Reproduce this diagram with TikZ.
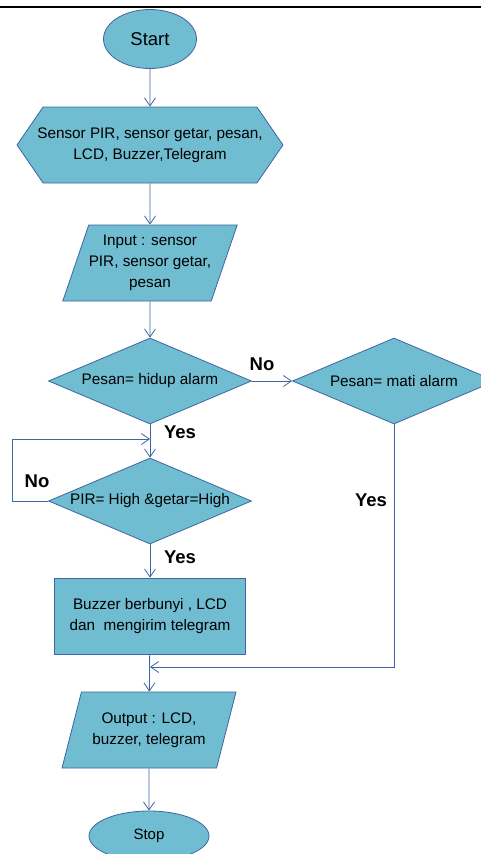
\documentclass[tikz,border=0pt]{standalone}
\usepackage{fontspec}
\setmainfont{Liberation Sans}
\usetikzlibrary{arrows.meta,positioning,calc,shapes.geometric,shapes.symbols}
\definecolor{flowfill}{RGB}{112,188,208}
\definecolor{flowline}{RGB}{62,102,162}

\begin{document}
\begin{tikzpicture}[
  x=1pt, y=-1pt,
  >={Straight Barb[length=8pt,width=11pt]},
  every node/.style={font=\fontsize{15.3}{21}\selectfont},
  shapebase/.style={draw=flowline, fill=flowfill, line width=0.8pt,
                    align=center, inner sep=0pt},
  terminal/.style={shapebase, ellipse},
  prep/.style={shapebase, signal, signal to=west and east,
               signal pointer angle=111, inner xsep=-12pt},
  io/.style={shapebase, trapezium, trapezium left angle=65,
             trapezium right angle=115, trapezium stretches=true,
             minimum width=174pt, minimum height=76pt},
  decision/.style={shapebase, diamond, aspect=2.36,
                   minimum width=203pt, minimum height=86pt},
  process/.style={shapebase, rectangle},
  arrow/.style={->, draw=flowline, line width=0.8pt},
  answer/.style={font=\fontsize{18.5}{20}\selectfont\bfseries},
]
  \useasboundingbox (0,0) rectangle (481,854);
  \draw[line width=1.2pt] (0,7) -- (481,7);

  \node[terminal, minimum width=93pt, minimum height=59pt,
        font=\fontsize{18.5}{20}\selectfont] (start) at (150,39) {Start};
  \node[prep, minimum width=266pt, minimum height=76pt] (sensors) at (150,145)
    {Sensor PIR, sensor getar, pesan,\\LCD, Buzzer,Telegram};
  \node[io] (input) at (150,263) {Input : sensor\\PIR, sensor getar,\\pesan};
  \node[decision] (alarmon) at (150,381) {Pesan= hidup alarm};
  \node[decision] (alarmoff) at (394,381) {Pesan= mati alarm};
  \node[decision] (detect) at (150,501) {PIR= High \&getar=High};
  \node[process, minimum width=191pt, minimum height=76pt] (notify) at (150,616)
    {Buzzer berbunyi , LCD\\dan\ \ mengirim telegram};
  \node[io] (output) at (149,730) {Output : LCD,\\buzzer, telegram};
  \node[terminal, minimum width=120pt, minimum height=50pt,
        font=\fontsize{15}{18}\selectfont] (stop) at (149,836) {Stop};

  \coordinate (retry) at (150,439);
  \coordinate (merge) at (150,667);

  \draw[arrow] (start) -- (sensors);
  \draw[arrow] (sensors) -- (input);
  \draw[arrow] (input) -- (alarmon);
  \draw[arrow] (alarmon) -- (alarmoff);
  \draw[arrow] (alarmon) -- (detect);
  \draw[arrow] (detect.west) -- ++(-36,0) |- (retry);
  \draw[arrow] (detect) -- (notify);
  \draw[arrow] (alarmoff.south) |- (merge);
  \draw[arrow] (notify) -- (output);
  \draw[arrow] (output) -- (stop);

  % answers
  \node[answer] (nooff) at (262,364) {No};
  \node[answer] (yeson) at (180,432) {Yes};
  \node[answer] (noloop) at (37,481) {No};
  \node[answer] (yesoff) at (371,500) {Yes};
  \node[answer] (yesdet) at (180,557) {Yes};
\end{tikzpicture}
\end{document}
